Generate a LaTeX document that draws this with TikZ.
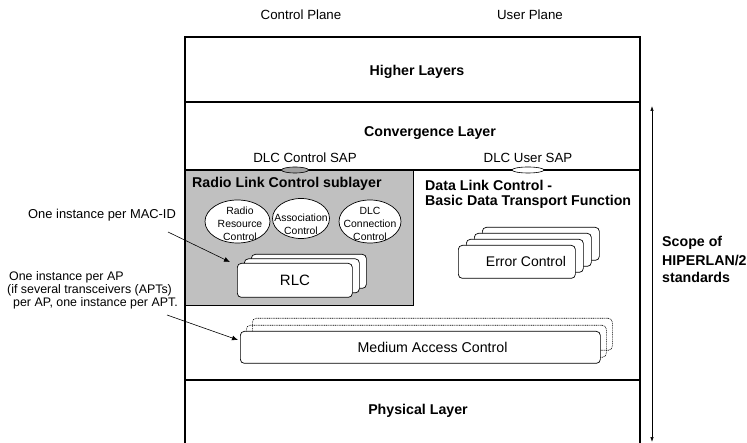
\documentclass[tikz,border=0pt]{standalone}
\usepackage{fontspec}
\setmainfont{Liberation Sans}
\usetikzlibrary{arrows.meta,shapes.geometric}
\definecolor{subgray}{HTML}{C0C0C0}
\definecolor{sapgray}{HTML}{A0A0A0}
\begin{document}
\begin{tikzpicture}[x=1pt,y=-1pt,
  lbl/.style={font=\fontsize{13.3}{15}\selectfont, inner sep=0},
  hd/.style={font=\fontsize{14.2}{17}\selectfont\bfseries, inner sep=0},
  small/.style={font=\fontsize{10.4}{13}\selectfont, align=center, inner sep=0},
  note/.style={font=\fontsize{12.9}{14}\selectfont, inner sep=0, anchor=west},
  notesm/.style={font=\fontsize{12.4}{14}\selectfont, inner sep=0, anchor=west},
  rbox/.style={draw, fill=white, rounded corners=4pt, line width=0.7pt, inner sep=0, anchor=north west},
  dbox/.style={draw, rounded corners=4pt, dash pattern=on 1pt off 0.8pt, line width=0.6pt, inner sep=0, anchor=north west},
  oval/.style={draw, ellipse, fill=white, inner sep=0, line width=0.7pt},
  sap/.style={draw, ellipse, inner sep=0, line width=0.6pt, minimum height=6},
  notearrow/.style={-{Latex[length=6pt,width=5pt]}, line width=0.6pt},
  framel/.style={line width=1.3pt},
  thickl/.style={line width=2.4pt},
]
\useasboundingbox (0,0) rectangle (747,443);

% gray RLC sublayer
\node[draw, line width=0.8pt, fill=subgray, minimum width=228, minimum height=135, anchor=north west, inner sep=0] (rlcsub) at (185,170) {};

% frame
\draw[framel] (185,443) -- (185,37) -- (640,37) -- (640,443);
\draw[thickl] (185,102) -- (640,102);
\draw[line width=1.2pt] (185,170) -- (640,170);
\draw[thickl] (185,380) -- (640,380);

% plane titles
\node[lbl] (cp) at (301,15) {Control Plane};
\node[lbl] (up) at (530,15) {User Plane};

% layers
\node[hd] (higher) at (417,72) {Higher Layers};
\node[hd] (conv) at (430,133) {Convergence Layer};
\node[hd] (phy) at (418,411) {Physical Layer};

% SAPs
\node[lbl] (csap) at (305,158) {DLC Control SAP};
\node[lbl] (usap) at (528,158) {DLC User SAP};
\node[sap, fill=sapgray, minimum width=27] (csapo) at (295,170) {};
\node[sap, fill=white, minimum width=32] (usapo) at (528,170) {};

% RLC sublayer content
\node[hd, anchor=west] (rlct) at (192,184) {Radio Link Control sublayer};
\node[oval, minimum width=65, minimum height=43] (rrc) at (237.5,221.5) {};
\node[small] (rrct) at (240,223.5) {Radio\\Resource\\Control};
\node[oval, minimum width=57, minimum height=40] (ac) at (301,218.5) {};
\node[small] (act) at (301,224) {Association\\Control};
\node[oval, minimum width=62, minimum height=43] (dcc) at (370,221.5) {};
\node[small] (dcct) at (370,223.5) {DLC\\Connection\\Control};

% RLC stack
\node[rbox, minimum width=115, minimum height=34] (rlc3) at (251,254) {};
\node[rbox, minimum width=115, minimum height=34] (rlc2) at (244,258.5) {};
\node[rbox, minimum width=115, minimum height=34] (rlc) at (237,263) {};
\node[font=\fontsize{15}{17}\selectfont, inner sep=0] (rlct2) at (295,280) {RLC};

% DLC basic data transport
\node[hd, anchor=west] (dlct1) at (425,185) {Data Link Control -};
\node[hd, anchor=west] (dlct2) at (425,202) {Basic Data Transport Function};

% Error control stack
\node[rbox, minimum width=117, minimum height=33] (ec4) at (482,227) {};
\node[rbox, minimum width=117, minimum height=33] (ec3) at (474,233) {};
\node[rbox, minimum width=117, minimum height=33] (ec2) at (466,239) {};
\node[rbox, minimum width=117, minimum height=33] (ec) at (458,245) {};
\node[font=\fontsize{14}{16}\selectfont, inner sep=0] (ect) at (526,261.5) {Error Control};

% MAC
\node[dbox, minimum width=360, minimum height=32] (mac3) at (252,318) {};
\node[dbox, minimum width=360, minimum height=32] (mac2) at (246,325) {};
\node[rbox, minimum width=360, minimum height=32] (mac) at (240,331) {};
\node[font=\fontsize{14.2}{16}\selectfont, inner sep=0] (mact) at (432.5,347.5) {Medium Access Control};

% notes
\node[note] (n1) at (28,215) {One instance per MAC-ID};
\node[notesm] (n2a) at (9,277) {One instance per AP};
\node[notesm] (n2b) at (7,290) {(if several transceivers (APTs)};
\node[notesm] (n2c) at (13,303) {per AP, one instance per APT.};
\coordinate (a1s) at (168,232);
\coordinate (a2s) at (167,315);
\draw[notearrow] (a1s) -- ([shift={(-7,-1)}]rlc.north west);
\draw[notearrow] (a2s) -- ([shift={(-2,9)}]mac.north west);

% scope
\coordinate (st) at (652,106);
\coordinate (sb) at (652,442);
\draw[{Latex[length=5pt,width=3.5pt]}-{Latex[length=5pt,width=3.5pt]}, line width=0.7pt] (st) -- (sb);
\node[hd, anchor=west] (s1) at (662,243) {Scope of};
\node[hd, anchor=west] (s2) at (662,260) {HIPERLAN/2};
\node[hd, anchor=west] (s3) at (662,277) {standards};
\end{tikzpicture}
\end{document}
